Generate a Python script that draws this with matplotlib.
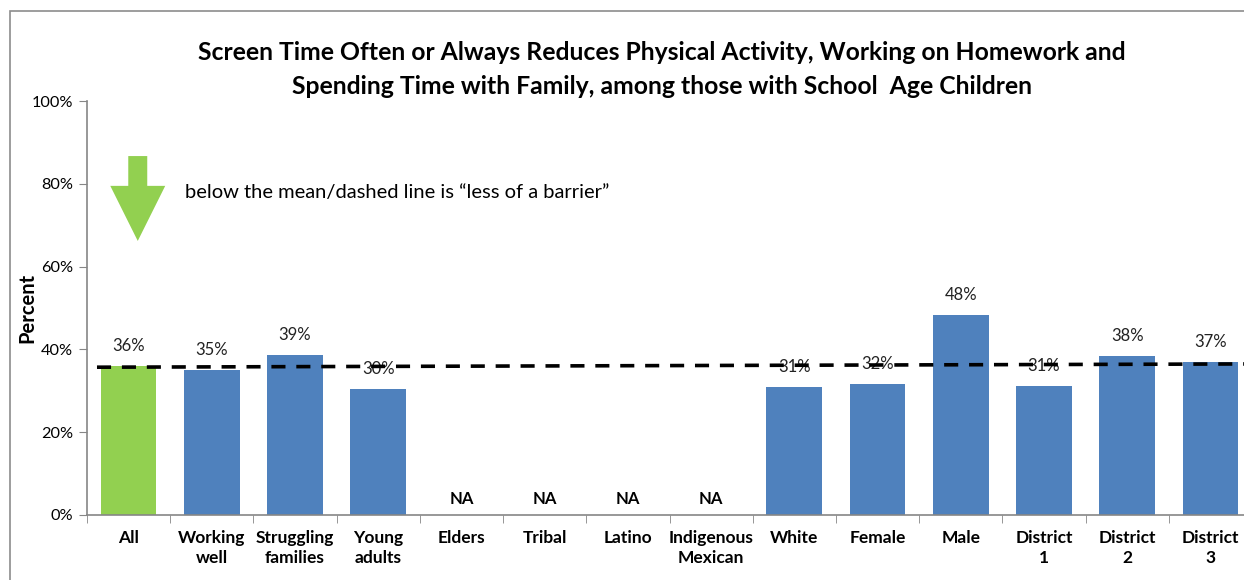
import matplotlib
matplotlib.use("Agg")
import matplotlib.pyplot as plt
from matplotlib.patches import Rectangle, Polygon

plt.rcParams['font.family'] = ['Lato', 'DejaVu Sans']

categories = ["All", "Working\nwell", "Struggling\nfamilies", "Young\nadults", "Elders",
              "Tribal", "Latino", "Indigenous\nMexican", "White", "Female", "Male",
              "District\n1", "District\n2", "District\n3"]
values = [36.0, 35.0, 38.6, 30.4, None, None, None, None, 30.9, 31.6, 48.3, 31.2, 38.4, 37.0]
labels = ["36%", "35%", "39%", "30%", "NA", "NA", "NA", "NA", "31%", "32%", "48%", "31%", "38%", "37%"]
mean_line = [35.7, 36.5]
yticks = [0, 20, 40, 60, 80, 100]
ytick_labels = ["0%", "20%", "40%", "60%", "80%", "100%"]

W, H = 1244, 580
fig = plt.figure(figsize=(W / 100, H / 100), dpi=100)
ax = fig.add_axes([87 / W, 1 - 515 / H, (1252 - 87) / W, (515 - 101) / H])

blue = "#4F81BD"
green = "#92D050"
x = list(range(len(categories)))
for i, v in enumerate(values):
    if v is None:
        ax.text(i, 3.9, labels[i], ha="center", va="center", fontsize=12, fontweight="bold",
                color="black")
        continue
    ax.bar(i, v, width=0.67, color=green if i == 0 else blue, edgecolor="none", zorder=2)
    ax.annotate(labels[i], (i, v), xytext=(0, 14.4), textcoords="offset points",
                ha="center", va="center", fontsize=12, color="#222222", zorder=3)

ax.plot([-0.38, len(categories) - 0.3], mean_line, color="black", lw=2.6,
        dashes=(3.9, 3.0), zorder=4)

ax.set_xlim(-0.5, len(categories) - 0.5)
ax.set_ylim(0, 100)
ax.set_yticks(yticks)
ax.set_yticklabels(ytick_labels, fontsize=11.7)
ax.set_xticks(x)
ax.set_xticklabels(categories, fontsize=12.5, fontweight="bold", linespacing=1.25)
ax.set_xticks([i - 0.5 for i in range(len(categories) + 1)], minor=True)
ax.tick_params(axis="x", which="major", length=0, pad=11)
ax.tick_params(axis="x", which="minor", length=6, color="#868686", direction="out")
ax.tick_params(axis="y", length=6, color="#868686", direction="out", pad=4)
for s in ["top", "right"]:
    ax.spines[s].set_visible(False)
for s in ["left", "bottom"]:
    ax.spines[s].set_color("#868686")
    ax.spines[s].set_linewidth(1.2)
ax.set_ylabel("Percent", fontsize=14.5, fontweight="bold")
ax.yaxis.set_label_coords((37 - 87) / (1252 - 87), 0.5)

# green arrow
cx = 0.11
arrow = Polygon([[cx - 0.114, 86.7], [cx + 0.114, 86.7], [cx + 0.114, 79.5], [cx + 0.33, 79.5],
                 [cx, 66.2], [cx - 0.33, 79.5], [cx - 0.114, 79.5]],
                closed=True, facecolor=green, edgecolor="none", zorder=5)
ax.add_patch(arrow)

fig.text(185 / W, 1 - 193 / H, "below the mean/dashed line is \u201cless of a barrier\u201d",
         fontsize=14.5, va="center", ha="left")

fig.text(662 / W, 1 - 52 / H, "Screen Time Often or Always Reduces Physical Activity, Working on Homework and",
         fontsize=17.8, fontweight="bold", ha="center", va="center")
fig.text(662 / W, 1 - 86 / H, "Spending Time with Family, among those with School  Age Children",
         fontsize=17.8, fontweight="bold", ha="center", va="center")

fig.patches.append(Rectangle((10 / W, -0.1), 1.2, (1 - 11 / H) + 0.1, transform=fig.transFigure,
                             fill=False, edgecolor="#8c8c8c", lw=1.2, figure=fig))

fig.savefig("out.png", dpi=100)
